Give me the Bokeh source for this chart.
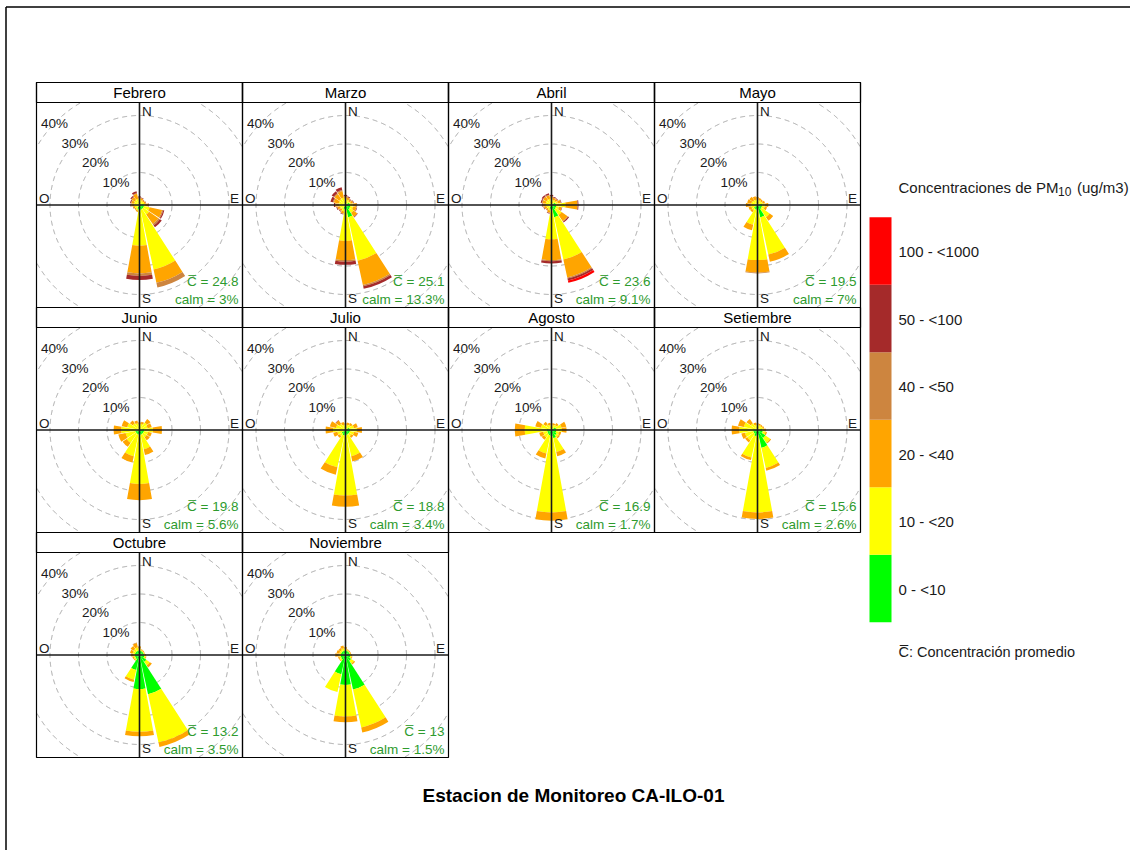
import numpy as np
from bokeh.plotting import figure
from bokeh.models import Range1d, ColumnDataSource
from bokeh.embed import file_html
from bokeh.resources import INLINE
from bokeh.core.properties import value

# ---------------- data ----------------
months = ["Febrero", "Marzo", "Abril", "Mayo", "Junio", "Julio",
          "Agosto", "Setiembre", "Octubre", "Noviembre"]
wind_dirs = [0, 22.5, 45, 67.5, 90, 112.5, 135, 157.5,
             180, 202.5, 225, 247.5, 270, 292.5, 315, 337.5]
bin_labels = ["0 - <10", "10 - <20", "20 - <40", "40 - <50", "50 - <100", "100 - <1000"]
bin_colors = ["#00FF00", "#FFFF00", "#FFA500", "#CD853F", "#A52A2A", "#FF0000"]

# frequency (%) of each concentration bin, per wind direction (N, NNE, ..., NNW)
febrero = [[0, 0.3, 0.8, 0.2, 0.3], [0, 0.3, 0.7, 0.1, 0.2], [0, 0.2, 0.5, 0, 0.1],
           [0, 0.3, 0.6, 0, 0.1], [0.1, 0.5, 1.0, 0.1, 0.2], [0.2, 2.0, 4.5, 0.4, 0.4],
           [0.2, 2.5, 4.0, 0.6, 0.8], [0.3, 21.5, 4.7, 1.7, 0], [0.5, 12.4, 9.7, 0.9, 1.4],
           [0.1, 0.5, 0.5, 0, 0], [0, 0.3, 0.5, 0, 0], [0, 0.3, 0.6, 0, 0.1],
           [0, 0.5, 1.0, 0.1, 0.2], [0, 0.5, 1.0, 0.2, 0.3], [0, 0.7, 1.2, 0.2, 0.4],
           [0, 0.8, 1.8, 0.3, 0.6]]
marzo = [[0, 0.5, 1.0, 0.2, 0.5], [0, 0.5, 0.8, 0.1, 0.3], [0, 0.3, 0.6, 0.1, 0.2],
         [0.1, 0.4, 0.8, 0.1, 0.2], [0.2, 1.0, 1.3, 0.1, 0.1], [0.3, 1.0, 1.2, 0.1, 0.2],
         [0.5, 1.5, 1.6, 0.1, 0.2], [3.0, 15.6, 8.7, 0.5, 0.9], [0.3, 10.9, 6.7, 0.6, 1.1],
         [0.1, 0.8, 0.8, 0.1, 0.2], [0, 0.5, 0.7, 0.1, 0.2], [0, 0.6, 0.9, 0.1, 0.3],
         [0, 0.8, 1.3, 0.2, 0.4], [0, 1.0, 1.8, 0.3, 0.9], [0, 1.2, 2.1, 0.3, 0.9],
         [0, 1.3, 2.3, 0.4, 1.0]]
abril = [[0, 0.5, 1.0, 0.2, 0.5], [0, 0.4, 0.8, 0.1, 0.3], [0, 0.4, 0.8, 0.1, 0.2],
         [0.1, 0.8, 1.0, 0.1, 0.2], [0.3, 3.2, 4.2, 0.1, 0.3], [0.3, 1.0, 1.0, 0.1, 0.1],
         [0.4, 2.5, 2.6, 0.2, 0.4], [3.0, 15.2, 6.4, 0.4, 0.7, 0.8], [0.3, 10.3, 7.3, 0.4, 0.8],
         [0.1, 0.5, 0.8, 0.1, 0.2], [0, 0.3, 0.6, 0, 0.1], [0, 0.4, 0.8, 0.1, 0.2],
         [0, 0.6, 1.0, 0.1, 0.3], [0, 0.7, 1.2, 0.2, 0.4], [0, 0.8, 1.3, 0.2, 0.5],
         [0, 0.8, 1.3, 0.2, 0.5]]
mayo = [[0, 0.4, 1.0], [0, 0.3, 0.8], [0, 0.3, 0.6], [0, 0.5, 0.8], [0.2, 1.0, 1.2],
        [0.2, 1.0, 0.8], [0.3, 3.5, 1.5], [3.0, 13.4, 2.6], [0.3, 17.6, 4.4, 0.3],
        [0.3, 5.4, 2.0], [0.1, 0.8, 0.8], [0, 0.8, 1.0], [0, 1.0, 1.7], [0, 0.8, 1.5],
        [0, 0.6, 1.5], [0, 0.5, 1.2]]
junio = [[0, 0.5, 0.8], [0, 0.8, 0.8], [0, 1.8, 1.5], [0, 1.5, 1.5], [0.2, 3.1, 3.2],
         [0.2, 1.5, 1.3], [0.2, 1.5, 1.3], [0.3, 5.2, 2.1], [0.3, 17.2, 5.7],
         [0.2, 7.8, 2.3], [0.1, 4.0, 1.7], [0.1, 3.5, 2.6], [0, 5.0, 2.7], [0, 3.0, 2.0],
         [0, 1.5, 1.2], [0, 1.0, 1.0]]
julio = [[0, 0.4, 0.6], [0, 0.5, 0.8], [0, 0.8, 0.8], [0.1, 1.5, 1.4], [0.2, 2.5, 1.7],
         [0.2, 1.5, 1.5], [0.2, 1.0, 0.8], [0.3, 7.7, 1.9], [0.5, 21.1, 3.9],
         [0.5, 11.5, 2.7], [0.2, 1.0, 0.8], [0, 1.5, 1.5], [0, 3.0, 2.6], [0, 2.0, 2.2],
         [0, 1.2, 1.5, 0, 0.2], [0, 0.5, 1.0]]
agosto = [[0, 0.4, 0.6], [0, 0.4, 0.6], [0, 0.8, 0.8], [0.2, 2.0, 1.7], [0.3, 2.0, 1.6],
          [0.3, 1.0, 0.8], [0.8, 0.8, 0.6], [1.5, 5.0, 1.5], [0.8, 26.7, 2.9],
          [0.5, 6.5, 1.8], [0.3, 1.5, 1.0], [0.1, 1.5, 1.4], [0.2, 7.8, 3.5],
          [0, 2.4, 2.0], [0, 1.0, 1.1], [0, 0.4, 0.8]]
setiembre = [[0, 0.4, 0.6], [0, 0.3, 0.5], [0, 0.3, 0.5], [0, 0.5, 0.5], [0.2, 0.8, 0.5],
             [0.5, 1.0, 0.5], [2.0, 2.0, 0.4], [5.0, 7.2, 1.0], [0.5, 27.0, 2.3],
             [0.8, 7.7, 0.9], [0.2, 2.8, 0.9], [0.1, 3.0, 1.3], [0.1, 4.9, 2.7],
             [0, 3.5, 2.1], [0, 1.5, 1.8], [0, 0.5, 0.8]]
octubre = [[0.2, 0.6, 0.8], [0.1, 0.3, 0.3], [0.1, 0.2, 0.3], [0.1, 0.2, 0.2],
           [0.2, 0.3, 0.3], [0.3, 0.5, 0.3], [1.5, 1.5, 0.9], [12.7, 17.3, 1.6],
           [10.5, 15.0, 1.6], [4.0, 3.5, 0.8], [0.3, 0.5, 0.3], [0.2, 0.5, 0.5],
           [0.2, 0.6, 0.8], [0.2, 0.8, 1.0], [0.2, 1.0, 1.2], [0.2, 1.2, 1.5, 0.2]]
noviembre = [[0.2, 0.5, 0.7], [0.1, 0.3, 0.3], [0.1, 0.2, 0.3], [0.1, 0.2, 0.3],
             [0.2, 0.3, 0.3], [0.3, 0.5, 0.3], [1.0, 1.2, 0.5], [11.0, 13.6, 1.8],
             [9.1, 11.1, 2.0], [5.5, 6.4], [0.5, 0.5, 0.3], [0.3, 0.5, 0.5],
             [0.2, 0.8, 1.2], [0.2, 0.6, 1.0], [0.2, 0.6, 0.8], [0.2, 0.8, 1.0]]
month_freqs = [febrero, marzo, abril, mayo, junio, julio, agosto, setiembre, octubre, noviembre]

mean_conc = [24.8, 25.1, 23.6, 19.5, 19.8, 18.8, 16.9, 15.6, 13.2, 13]
calm_pct = [3, 13.3, 9.1, 7, 5.6, 3.4, 1.7, 2.6, 3.5, 1.5]
ring_levels = [10, 20, 30, 40, 50]
ring_labels = ["10%", "20%", "30%", "40%"]
compass = ["N", "E", "S", "O"]
legend_title = ["Concentraciones de PM", "10", "(ug/m3)"]
mean_note = "C\u0305: Concentración promedio"
main_title = "Estacion de Monitoreo CA-ILO-01"

# ---------------- layout ----------------
FIG_W, FIG_H, PAGE = 1130, 850, 0
COL_LEFT = [36, 242, 448, 654]
ROW_TOP = [82, 307, 532]
PANEL_W, STRIP_H, PANEL_H = 206, 20, 225
K = 2.85          # pixels per percent
OFF = 4.0 / K     # small radial offset (percent units)
HALF = 10.25      # half petal width, degrees
FONT = value("Liberation Sans")
GREEN_TXT = "#2E9B2E"


def fx(ix):
    return ix - PAGE


def fy(iy):
    return FIG_H + PAGE - iy


p = figure(width=FIG_W, height=FIG_H, x_range=Range1d(0, FIG_W), y_range=Range1d(0, FIG_H),
           output_backend="svg", toolbar_location=None, min_border=0,
           x_axis_location=None, y_axis_location=None, outline_line_color=None,
           background_fill_color="white", border_fill_color="white")
p.grid.visible = False

extra_x, extra_y = {}, {}
panels = []
for i, m in enumerate(months):
    col, row = i % 4, i // 4
    left, top = COL_LEFT[col], ROW_TOP[row]
    ptop, bottom = top + STRIP_H, top + PANEL_H
    cx, cy = left + PANEL_W / 2, (ptop + bottom) / 2
    xn, yn = f"px{i}", f"py{i}"
    extra_x[xn] = Range1d(-fx(cx) / K, (FIG_W - fx(cx)) / K)
    extra_y[yn] = Range1d(-fy(cy) / K, (FIG_H - fy(cy)) / K)
    panels.append(dict(left=left, top=top, ptop=ptop, bottom=bottom, cx=cx, cy=cy, xn=xn, yn=yn))
p.extra_x_ranges = extra_x
p.extra_y_ranges = extra_y

# outer frame (left/top edges)
p.segment(x0=[fx(5.5), fx(5.5)], y0=[fy(FIG_H), fy(6.5)], x1=[fx(5.5), fx(FIG_W)], y1=[fy(6.5), fy(6.5)],
          line_color="black", line_width=1.5)

theta = np.linspace(0, 2 * np.pi, 1441)
for i, pn in enumerate(panels):
    xn, yn = pn["xn"], pn["yn"]
    hw = (PANEL_W / 2 - 0.5) / K
    ytop = (pn["cy"] - pn["ptop"] - 0.5) / K
    ybot = -(pn["bottom"] - pn["cy"] - 0.5) / K
    # dashed rings, clipped to the panel
    for lev in ring_levels:
        r = OFF + lev
        xs = r * np.cos(theta)
        ys = r * np.sin(theta)
        out = (np.abs(xs) > hw) | (ys > ytop) | (ys < ybot)
        xs = np.where(out, np.nan, xs)
        ys = np.where(out, np.nan, ys)
        p.line(xs, ys, line_color="#A0A0A0", line_width=1, line_dash="5 4",
               x_range_name=xn, y_range_name=yn)
    # petals
    data = dict(inner=[], outer=[], start=[], end=[], color=[])
    for d, row_vals in zip(wind_dirs, month_freqs[i]):
        cum = 0.0
        for b, v in enumerate(row_vals):
            if v <= 0:
                continue
            inner = 0.0 if cum == 0 else OFF + cum
            cum += v
            data["inner"].append(inner)
            data["outer"].append(OFF + cum)
            data["start"].append(np.radians(90 - d - HALF))
            data["end"].append(np.radians(90 - d + HALF))
            data["color"].append(bin_colors[b])
    n = len(data["inner"])
    data["x"] = [0] * n
    data["y"] = [0] * n
    src = ColumnDataSource(data)
    p.annular_wedge(x="x", y="y", inner_radius="inner", outer_radius="outer",
                    start_angle="start", end_angle="end", fill_color="color",
                    line_color=None, source=src, x_range_name=xn, y_range_name=yn)
    # axes cross
    p.segment(x0=[fx(pn["left"]), fx(pn["cx"])], y0=[fy(pn["cy"]), fy(pn["ptop"])],
              x1=[fx(pn["left"] + PANEL_W), fx(pn["cx"])], y1=[fy(pn["cy"]), fy(pn["bottom"])],
              line_color="#1A1A1A", line_width=1.6)
    # ring labels
    rl = [OFF + lev for lev in ring_levels[:len(ring_labels)]]
    p.text(x=[-0.72 * r for r in rl], y=[0.69 * r for r in rl], text=ring_labels,
           text_font=FONT, text_font_size="13.5px", text_align="center",
           text_baseline="middle", text_color="#1A1A1A", x_range_name=xn, y_range_name=yn)
    # compass labels
    L, R = pn["left"], pn["left"] + PANEL_W
    p.text(x=[fx(pn["cx"] + 2.5), fx(R - 3.5), fx(pn["cx"] + 2.5), fx(L + 2.5)],
           y=[fy(pn["ptop"] + 8.5), fy(pn["cy"] - 6.5), fy(pn["bottom"] - 9), fy(pn["cy"] - 6.5)],
           text=compass, text_align=["left", "right", "left", "left"],
           text_baseline="middle", text_font=FONT, text_font_size="13.5px",
           text_color="#1A1A1A")
    # statistics
    p.text(x=[fx(R - 4), fx(R - 4)], y=[fy(pn["bottom"] - 26), fy(pn["bottom"] - 8)],
           text=[f"C\u0305 = {mean_conc[i]:g}", f"calm = {calm_pct[i]:g}%"],
           text_align="right", text_baseline="middle", text_font=FONT,
           text_font_size="13.5px", text_color=GREEN_TXT)
    # panel + strip frames
    p.quad(left=[fx(L), fx(L)], right=[fx(R), fx(R)],
           top=[fy(pn["top"]), fy(pn["top"])], bottom=[fy(pn["bottom"]), fy(pn["ptop"])],
           fill_color=None, line_color="black", line_width=1.2)
    p.text(x=[fx(pn["cx"])], y=[fy(pn["top"] + STRIP_H / 2)], text=[months[i]],
           text_align="center", text_baseline="middle", text_font=FONT,
           text_font_size="15px", text_color="black")

# ---------------- legend ----------------
LEG_X0, LEG_X1, LEG_TOP, LEG_BH = 869, 891, 216.7, 67.5
nb = len(bin_colors)
tops = [LEG_TOP + (nb - 1 - k) * LEG_BH for k in range(nb)]
p.quad(left=[fx(LEG_X0)] * nb, right=[fx(LEG_X1)] * nb,
       top=[fy(t) for t in tops], bottom=[fy(t + LEG_BH) for t in tops],
       fill_color=bin_colors, line_color=None)
p.text(x=[fx(898)] * nb, y=[fy(t + LEG_BH / 2 + 1) for t in tops], text=bin_labels,
       text_align="left", text_baseline="middle", text_font=FONT,
       text_font_size="15px", text_color="#1A1A1A")
p.text(x=[fx(898), fx(1057.5), fx(1076.5)], y=[fy(186.5), fy(190.5), fy(186.5)], text=legend_title,
       text_align="left", text_baseline="middle", text_font=FONT,
       text_font_size=["15px", "12px", "15px"], text_color="#1A1A1A")
p.text(x=[fx(898)], y=[fy(651.5)], text=[mean_note], text_align="left",
       text_baseline="middle", text_font=FONT, text_font_size="14.5px",
       text_color="#1A1A1A")

# ---------------- title ----------------
p.text(x=[fx(573)], y=[fy(795)], text=[main_title], text_align="center",
       text_baseline="middle", text_font=FONT, text_font_size="19px",
       text_font_style="bold", text_color="black")

open("out.html", "w").write(file_html(p, INLINE))
